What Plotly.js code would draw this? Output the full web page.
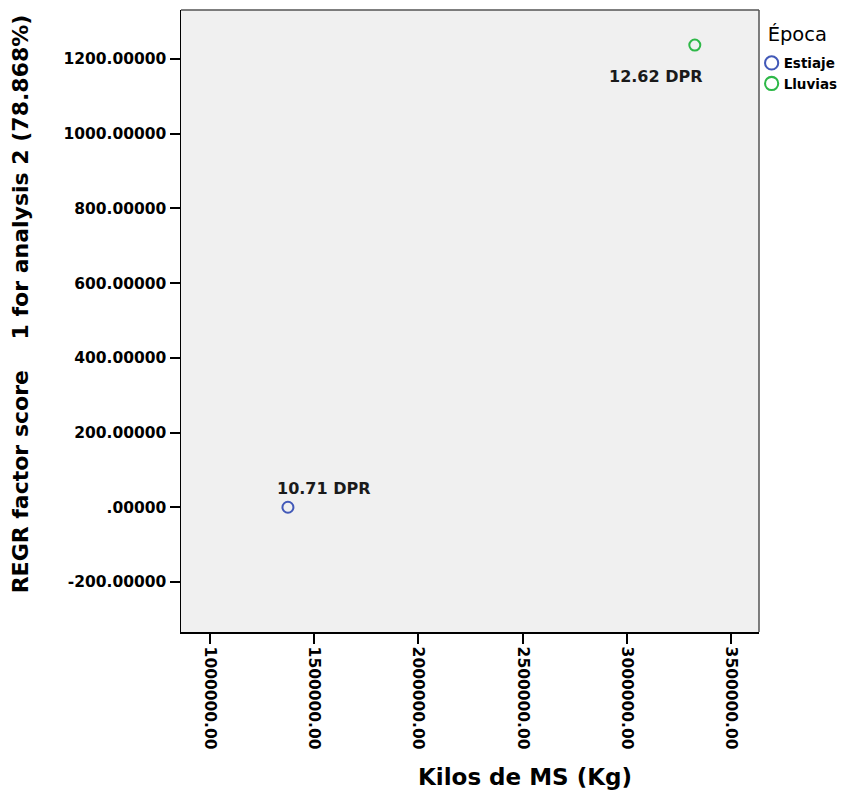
<!DOCTYPE html>
<html>
<head>
<meta charset="utf-8">
<script src="https://cdn.plot.ly/plotly-3.0.1.min.js"></script>
<style>
html,body{margin:0;padding:0;background:#fff;}
#chart{width:845px;height:797px;}
</style>
</head>
<body>
<div id="chart"></div>
<script>
// ---- data ----
const groups = ["Estiaje", "Lluvias"];
const kilosMS = [1374000, 3326000];
const factorScore = [0, 1237];
const pointLabels = ["10.71 DPR", "12.62 DPR"];
const groupColors = ["#4259b8", "#2eb848"];

const xTickVals = [1000000, 1500000, 2000000, 2500000, 3000000, 3500000];
const xTickText = ["1000000.00", "1500000.00", "2000000.00", "2500000.00", "3000000.00", "3500000.00"];
const yTickVals = [-200, 0, 200, 400, 600, 800, 1000, 1200];
const yTickText = ["-200.00000", ".00000", "200.00000", "400.00000", "600.00000", "800.00000", "1000.00000", "1200.00000"];

const xTitle = "Kilos de MS (Kg)";
const yTitle = "REGR factor score\u00a0\u00a0\u00a0 1 for analysis 2 (78.868%)";
const legendTitle = "Época";

// ---- traces ----
const traces = groups.map((g, i) => ({
  type: "scatter",
  mode: "markers",
  name: g,
  x: [kilosMS[i]],
  y: [factorScore[i]],
  marker: {symbol: "circle-open", size: 11, color: groupColors[i], line: {width: 2, color: groupColors[i]}},
  hoverinfo: "skip"
}));

const labelPlacement = [
  {xanchor: "left", yanchor: "bottom", xshift: -13, yshift: 7},
  {xanchor: "right", yanchor: "top", xshift: 10, yshift: -20}
];
const annotations = pointLabels.map((t, i) => Object.assign({
  x: kilosMS[i], y: factorScore[i], xref: "x", yref: "y",
  text: t, showarrow: false,
  font: {family: "DejaVu Sans", size: 16, color: "#1a1a1a", weight: "bold"}
}, labelPlacement[i]));

const tickFont = {family: "DejaVu Sans", size: 15.5, color: "#000", weight: "bold"};

const layout = {
  width: 845, height: 797,
  margin: {l: 181, r: 86, t: 10, b: 165, pad: 0, autoexpand: false},
  paper_bgcolor: "#ffffff",
  plot_bgcolor: "#f0f0f0",
  showlegend: true,
  legend: {
    xref: "container", yref: "container",
    x: 0.8895, xanchor: "left", y: 0.972, yanchor: "top",
    title: {text: legendTitle, font: {family: "DejaVu Sans", size: 19.5, color: "#000", weight: "normal"}},
    font: {family: "DejaVu Sans", size: 13.5, color: "#000", weight: "bold"},
    bgcolor: "rgba(0,0,0,0)", borderwidth: 0, itemwidth: 30, tracegroupgap: 0
  },
  xaxis: {
    range: [861000, 3634000],
    tickvals: xTickVals, ticktext: xTickText, tickangle: 90,
    ticks: "outside", ticklen: 10, tickwidth: 2, tickcolor: "#000",
    tickfont: tickFont,
    showgrid: false, zeroline: false,
    showline: true, linecolor: "#000", linewidth: 1.5,
    title: {text: xTitle, font: {family: "DejaVu Sans", size: 23, color: "#000", weight: "bold"}, standoff: 20}
  },
  yaxis: {
    range: [-334, 1331],
    tickvals: yTickVals, ticktext: yTickText,
    ticks: "outside", ticklen: 10, tickwidth: 2, tickcolor: "#000",
    tickfont: tickFont,
    showgrid: false, zeroline: false,
    showline: true, linecolor: "#000", linewidth: 1.5,
    title: {text: yTitle, font: {family: "DejaVu Sans", size: 22, color: "#000", weight: "bold"}, standoff: 28}
  },
  shapes: [
    {type: "line", xref: "paper", yref: "paper", x0: 0, x1: 1, y0: 1, y1: 1, line: {color: "#555", width: 1.5}},
    {type: "line", xref: "paper", yref: "paper", x0: 1, x1: 1, y0: 0, y1: 1, line: {color: "#555", width: 1.5}}
  ],
  annotations: annotations
};

function shift(el, dx, dy) {
  if (!el) return;
  const prev = el.getAttribute("transform") || "";
  el.setAttribute("transform", "translate(" + dx + "," + dy + ") " + prev);
}

Plotly.newPlot("chart", traces, layout, {displayModeBar: false, staticPlot: true}).then(gd => {
  // SPSS-style offsets: axis titles not centred on the plot, tight legend
  shift(gd.querySelector(".g-xtitle"), 55, 0);
  shift(gd.querySelector(".g-ytitle"), 0, -17);
  gd.querySelectorAll(".legend [clip-path]").forEach(e => e.removeAttribute("clip-path"));
  gd.querySelectorAll(".legend .legendtext").forEach(t => t.setAttribute("x", 32));
  gd.querySelectorAll(".legend .legendpoints path").forEach(p => {
    p.setAttribute("transform", (p.getAttribute("transform") || "") + " scale(1.2)");
    p.style.strokeWidth = "1.7px";
  });
  const tt = gd.querySelector(".legend .legendtitletext");
  if (tt) tt.setAttribute("transform", (tt.getAttribute("transform") || "") + " translate(14,-7)");
});
</script>
</body>
</html>
